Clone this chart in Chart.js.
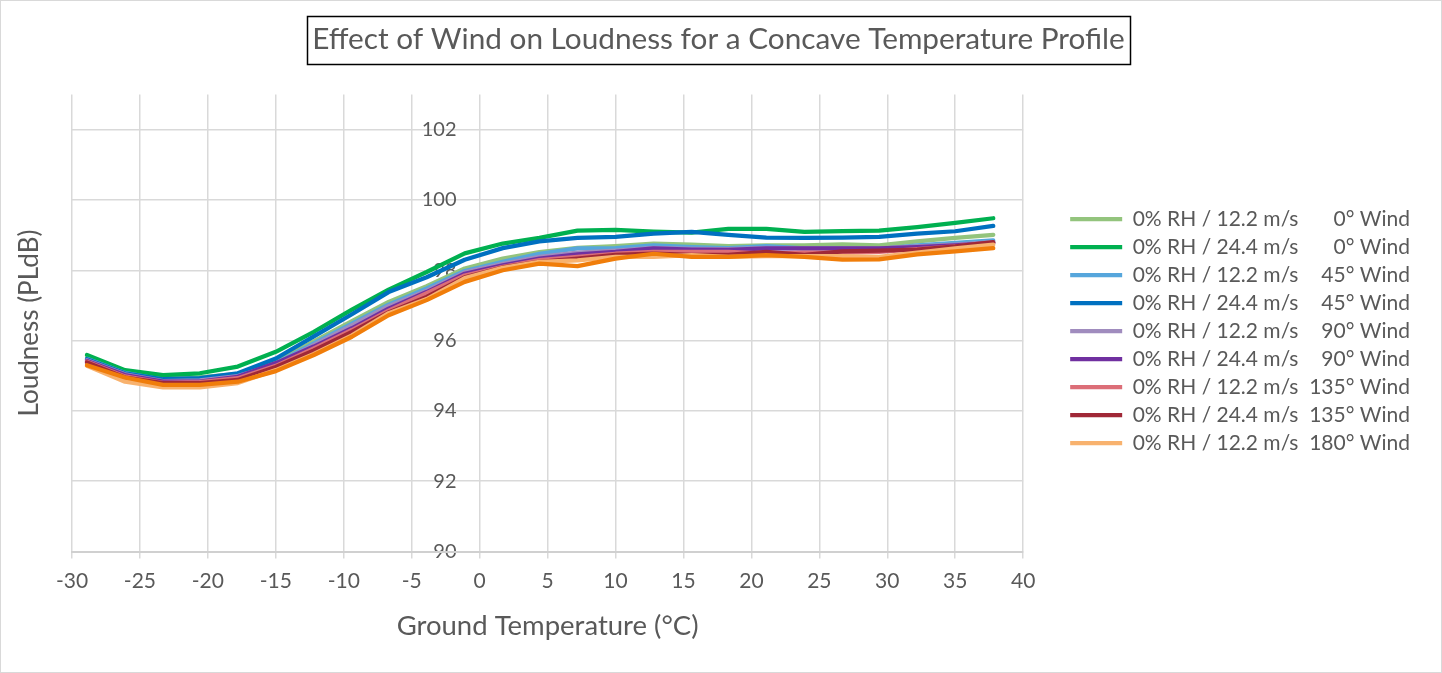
<!DOCTYPE html>
<html><head><meta charset="utf-8">
<script src="https://cdn.jsdelivr.net/npm/chart.js@4.4.1/dist/chart.umd.min.js"></script>
<style>
html,body{margin:0;padding:0;background:#fff;}
#wrap{position:absolute;left:0;top:0;width:1440px;height:671px;border:1px solid #D9D9D9;background:#fff;}
canvas{display:block}
</style></head><body>
<div id="wrap"><canvas id="c" width="1440" height="671"></canvas></div>
<script>
// ---- data ----
const temperatureC = [-28.9,-26.1,-23.3,-20.6,-17.8,-15.0,-12.2,-9.4,-6.7,-3.9,-1.1,1.7,4.4,7.2,10.0,12.8,15.6,18.3,21.1,23.9,26.7,29.4,32.2,35.0,37.8];
const windSpeeds = ['12.2','24.4','12.2','24.4','12.2','24.4','12.2','24.4','12.2','24.4'];
const windDirections = ['0','0','45','45','90','90','135','135','180','180'];
const loud_12_0   = [95.50,95.10,94.93,94.95,95.05,95.40,95.98,96.55,97.10,97.55,98.05,98.33,98.52,98.64,98.69,98.76,98.73,98.69,98.71,98.71,98.74,98.71,98.82,98.92,99.01];
const loud_24_0   = [95.59,95.16,95.02,95.07,95.26,95.68,96.25,96.88,97.45,97.95,98.48,98.76,98.92,99.13,99.15,99.10,99.07,99.18,99.18,99.09,99.11,99.13,99.23,99.35,99.48];
const loud_12_45  = [95.48,95.08,94.88,94.90,95.02,95.35,95.92,96.48,97.02,97.48,97.98,98.24,98.47,98.62,98.63,98.71,98.66,98.63,98.69,98.62,98.62,98.60,98.71,98.78,98.85];
const loud_24_45  = [95.47,95.07,94.90,94.93,95.07,95.49,96.12,96.75,97.38,97.80,98.30,98.63,98.82,98.92,98.95,99.04,99.09,99.01,98.93,98.92,98.93,98.95,99.04,99.11,99.26];
const loud_12_90  = [95.44,95.04,94.85,94.87,94.99,95.32,95.88,96.43,96.98,97.42,97.94,98.18,98.38,98.50,98.56,98.64,98.61,98.60,98.64,98.62,98.62,98.62,98.68,98.73,98.80];
const loud_24_90  = [95.42,95.02,94.83,94.83,94.97,95.36,95.83,96.35,96.91,97.38,97.90,98.14,98.33,98.45,98.52,98.62,98.59,98.58,98.62,98.62,98.62,98.62,98.66,98.71,98.78];
const loud_12_135 = [95.40,94.98,94.80,94.82,94.93,95.28,95.78,96.30,96.85,97.35,97.85,98.10,98.29,98.38,98.47,98.52,98.52,98.52,98.47,98.50,98.50,98.52,98.60,98.68,98.78];
const loud_24_135 = [95.38,94.95,94.79,94.79,94.88,95.25,95.72,96.25,96.80,97.24,97.80,98.08,98.24,98.33,98.44,98.47,98.44,98.44,98.52,98.44,98.54,98.56,98.59,98.68,98.80];
const loud_12_180 = [95.28,94.83,94.67,94.67,94.79,95.16,95.62,96.15,96.78,97.18,97.78,98.07,98.24,98.28,98.38,98.38,98.43,98.38,98.40,98.40,98.40,98.38,98.50,98.62,98.73];
const loud_24_180 = [95.30,94.95,94.74,94.74,94.83,95.13,95.59,96.11,96.72,97.15,97.67,98.00,98.19,98.12,98.33,98.47,98.38,98.38,98.43,98.38,98.30,98.31,98.45,98.54,98.63];
const xTickStep = 5;
const yTickStep = 2;
const chartTitle = 'Effect of Wind on Loudness for a Concave Temperature Profile';
const xTitle = 'Ground Temperature (°C)';
const yTitle = 'Loudness (PLdB)';

const seriesValues = [loud_12_0,loud_24_0,loud_12_45,loud_24_45,loud_12_90,loud_24_90,loud_12_135,loud_24_135,loud_12_180,loud_24_180];
const palette = ['#93C47D','#00B050','#56A6DC','#0070C0','#A08CBE','#7030A0','#DC6E78','#A02837','#F8B26E','#F07D0A'];

const FIG = '\u2007';
function legendText(i){
  const d = windDirections[i];
  return '0% RH / ' + windSpeeds[i] + ' m/s  ' + FIG.repeat(3 - d.length) + d + '° Wind';
}

const datasets = seriesValues.map((vals, i) => ({
  label: legendText(i),
  data: vals.map((v, k) => ({x: temperatureC[k], y: v})),
  borderColor: palette[i],
  backgroundColor: palette[i],
  borderWidth: 4.25,
  borderCapStyle: 'round',
  borderJoinStyle: 'round',
  pointRadius: 0,
  tension: 0,
  yAxisID: 'y',
  xAxisID: 'x',
  order: 10 - i
}));

const txt = '#595959';
const grid = '#D9D9D9';

const titleBox = {
  id: 'titleBox',
  afterDraw(chart){
    const tb = chart.titleBlock; if (!tb) return;
    const ctx = chart.ctx;
    ctx.save();
    ctx.font = Chart.helpers.toFont(tb.options.font).string;
    const w = ctx.measureText(chartTitle).width;
    const cx = (tb.left + tb.right) / 2;
    ctx.strokeStyle = '#000';
    ctx.lineWidth = 1.5;
    ctx.strokeRect(Math.round(cx - w/2 - 5) + 0.5, 15.5, Math.round(w + 10), 48);
    ctx.restore();
  }
};

new Chart(document.getElementById('c'), {
  type: 'line',
  data: { datasets },
  plugins: [titleBox],
  options: {
    responsive: false,
    animation: false,
    devicePixelRatio: 1,
    layout: { padding: { left: 16, right: 21, top: 0, bottom: 0 } },
    plugins: {
      tooltip: { enabled: false },
      title: {
        display: true, text: chartTitle, color: txt,
        font: { family: 'Lato', size: 29.75, weight: 'normal' },
        padding: { top: 21, bottom: 36.8 }
      },
      legend: {
        position: 'right', align: 'center', fullSize: false, maxWidth: 420,
        title: { display: true, text: ' ', font: { size: 10 }, padding: { top: 4, bottom: 0 } },
        labels: {
          usePointStyle: true, pointStyle: 'line', pointStyleWidth: 52,
          color: txt, font: { family: 'Lato', size: 21 }, padding: 7,
          filter: (item) => item.datasetIndex < 9,
          sort: (a, b) => a.datasetIndex - b.datasetIndex
        }
      }
    },
    scales: {
      y: {
        type: 'linear', position: { x: -1.7 }, min: 90, max: 103,
        ticks: { stepSize: yTickStep, includeBounds: false, color: txt, font: { family: 'Lato', size: 20 } },
        grid: { color: grid, lineWidth: 1.5, drawTicks: false },
        border: { display: false }
      },
      x: {
        type: 'linear', position: 'bottom', min: -30, max: 40,
        ticks: { stepSize: xTickStep, color: txt, font: { family: 'Lato', size: 21 }, padding: 10, maxRotation: 0 },
        grid: { color: grid, lineWidth: 1.5, tickLength: 7, tickColor: grid },
        border: { display: true, color: '#D0D0D0', width: 2 },
        title: { display: true, text: xTitle, color: txt, font: { family: 'Lato', size: 27.5 }, padding: { top: 0, bottom: 29.5 } },
        afterFit(s){ s.height = 120.5; }
      },
      yTitleAxis: {
        type: 'linear', position: 'left', min: 90, max: 103, display: true,
        ticks: { display: false }, grid: { display: false, drawTicks: false }, border: { display: false },
        title: { display: true, text: yTitle, color: txt, font: { family: 'Lato', size: 26 }, padding: { top: -2.6, bottom: 0 } },
        afterFit(s){ s.width = 55; }
      },
      spacerAxis: {
        type: 'linear', position: 'right', min: 0, max: 1, display: true,
        ticks: { display: false }, grid: { display: false, drawTicks: false }, border: { display: false },
        afterFit(s){ s.width = 40; }
      }
    }
  }
});
</script>
</body></html>
